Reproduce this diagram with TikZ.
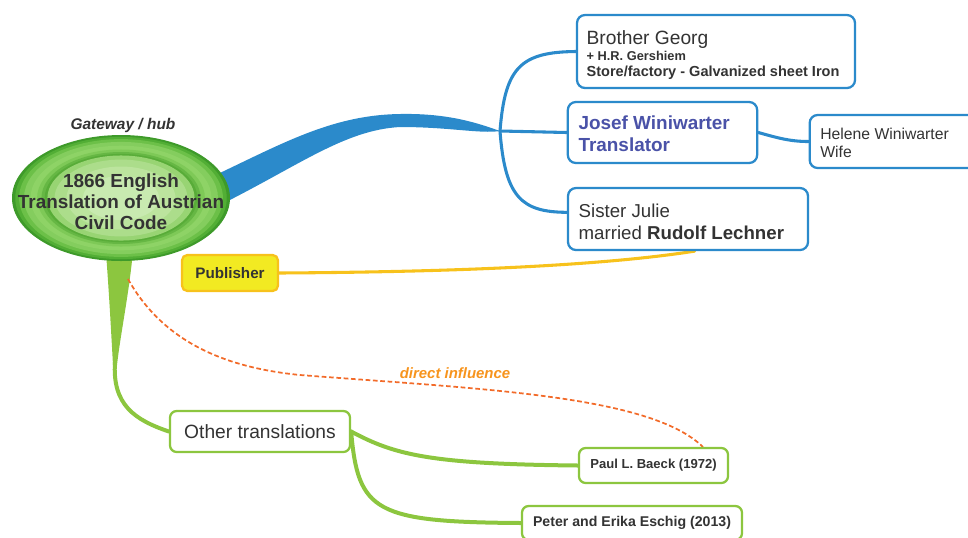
\documentclass[tikz,border=0pt]{standalone}
\usepackage{fontspec}
\setmainfont{Liberation Sans}
\usetikzlibrary{shapes.geometric,backgrounds}

\definecolor{ink}{HTML}{333333}
\definecolor{mapblue}{HTML}{2B8ACB}
\definecolor{namblue}{HTML}{4A52A8}
\definecolor{pubfill}{HTML}{F2EA22}
\definecolor{pubedge}{HTML}{F7C21C}
\definecolor{mapgreen}{HTML}{8CC63F}
\definecolor{infl}{HTML}{F26B2A}
\definecolor{infltext}{HTML}{F7941D}

% bands of the hub ellipse, outside in
\definecolor{hubA}{HTML}{3E9A2A}
\definecolor{hubB}{HTML}{52AE35}
\definecolor{hubC}{HTML}{6CC048}
\definecolor{hubD}{HTML}{84CD5E}
\definecolor{hubE}{HTML}{8ED366}
\definecolor{hubF}{HTML}{7EC957}
\definecolor{hubG}{HTML}{66B744}
\definecolor{hubH}{HTML}{58AC38}
\definecolor{hubI}{HTML}{98D473}
\definecolor{hubJ}{HTML}{ACDD8B}
\definecolor{hubK}{HTML}{BCE49E}
\definecolor{hubL}{HTML}{C8EAB0}

\tikzset{
  topic/.style={draw=mapblue, rounded corners=6pt, line width=1.7pt,
    fill=white, inner ysep=0pt, inner xsep=8pt, text=ink, align=flush left},
  leaf/.style={draw=mapgreen, rounded corners=5pt, line width=1.7pt,
    fill=white, inner sep=0pt, text=ink, align=center},
  hub/.style={ellipse, minimum width=163.5pt, minimum height=94.5pt, inner sep=0pt},
  hubtext/.style={text=ink, align=center, inner sep=0pt,
    font=\bfseries\fontsize{14.2}{15.75}\selectfont},
  blueline/.style={draw=mapblue, line width=2.3pt, line cap=round},
  greenline/.style={draw=mapgreen, line width=3pt, line cap=round},
  yellowline/.style={draw=pubedge, line width=2.3pt, line cap=round},
  inflline/.style={draw=infl, line width=1.3pt, dash pattern=on 3.5pt off 2pt},
}

\begin{document}
\begin{tikzpicture}[x=0.75pt,y=-0.75pt]
\useasboundingbox (0,0) rectangle (968,537);

% central topic: concentric bands give the bevelled green look
\node[hub] (hub) at (121,198) {};
\foreach \s/\c in {1.00/hubA,0.97/hubB,0.935/hubC,0.89/hubD,0.83/hubE,0.77/hubF,
                   0.73/hubG,0.70/hubH,0.675/hubI,0.61/hubJ,0.50/hubK,0.35/hubL}
  \fill[\c] (hub.center) ellipse [x radius=\s*81.75pt, y radius=\s*47.25pt];
\node[hubtext, yshift=-3pt] (hubtext) at (hub.center) {1866 English\\Translation of Austrian\\Civil Code};
\node[text=ink, font=\bfseries\itshape\fontsize{11.6}{13}\selectfont] (tag) at (123,125) {Gateway / hub};

% family branch
\node[topic, minimum width=208.5pt, minimum height=54.75pt, text width=194pt, inner xsep=7pt,
  font=\fontsize{10}{12}\selectfont] (georg) at (716,51.5)
  {\rule{0pt}{16pt}{\fontsize{14.4}{13}\selectfont Brother Georg}\\[-0.25pt]
   {\bfseries\fontsize{9.6}{12}\selectfont + H.R. Gershiem}\\[0.6pt]
   {\bfseries\fontsize{10.9}{12}\selectfont Store/factory - Galvanized sheet Iron}};
\node[topic, minimum width=141.75pt, minimum height=45.75pt, text width=126pt, inner xsep=8pt,
  text=namblue, font=\bfseries\fontsize{14.2}{16.5}\selectfont] (josef) at (662.5,132.5)
  {\rule{0pt}{11.5pt}Josef Winiwarter\\Translator};
\node[topic, minimum width=127.5pt, minimum height=39.75pt, text width=112pt,
  font=\fontsize{11.8}{14}\selectfont] (helene) at (895,141.5)
  {\rule{0pt}{10.5pt}Helene Winiwarter\\Wife};
\node[topic, minimum width=180pt, minimum height=46.5pt, text width=164pt,
  font=\fontsize{14}{17}\selectfont] (julie) at (688,219)
  {\rule{0pt}{14.6pt}Sister Julie\\married \textbf{Rudolf Lechner}};

% publisher
\node[draw=pubedge, fill=pubfill, rounded corners=4pt, line width=1.7pt,
  minimum width=72pt, minimum height=27pt, inner sep=0pt, text=ink,
  font=\bfseries\fontsize{11.4}{12}\selectfont] (pub) at (230,273) {Publisher};

% translations
\node[leaf, minimum width=135pt, minimum height=30.75pt,
  font=\fontsize{14.4}{16}\selectfont] (other) at (260,431.5) {Other translations};
\node[leaf, minimum width=111.75pt, minimum height=26.25pt,
  font=\bfseries\fontsize{9.8}{11}\selectfont] (paul) at (653.5,465.5) {Paul L. Baeck (1972)};
\node[leaf, minimum width=165pt, minimum height=25.5pt,
  font=\bfseries\fontsize{10.6}{11}\selectfont] (peter) at (632,523) {Peter and Erika Eschig (2013)};

\node[text=infltext, font=\bfseries\itshape\fontsize{11.2}{13}\selectfont] (infllabel) at (455,373) {direct influence};

\coordinate (fork) at (500,131);
\coordinate (inflstart) at (128,279);
\coordinate (inflend) at (703,447);
\coordinate (stem) at (115,362);

\begin{scope}[on background layer]
  % tapered trunk to the family branch
  \fill[mapblue] (205,180) .. controls (280,145) and (330,115) .. (400,114)
    .. controls (450,113) and (480,124) .. (fork)
    .. controls (480,134) and (450,127) .. (400,127)
    .. controls (345,130) and (300,165) .. (220,205) -- cycle;
  \draw[blueline] (fork) .. controls (505,68) and (520,52) .. (georg.west);
  \draw[blueline] (fork) -- (josef.west);
  \draw[blueline] (fork) .. controls (505,198) and (522,212) .. ([yshift=5pt]julie.west);
  \draw[blueline] (josef.east) .. controls (778,138) and (790,141.5) .. (helene.west);

  % publisher link
  \draw[yellowline] (pub.east) .. controls (450,272) and (600,266) .. ([xshift=5pt]julie.south);

  % tapered trunk to the translations
  \fill[mapgreen] (105,240) -- (134,240) .. controls (130,290) and (121,330) .. (117,365)
    -- (113,365) .. controls (111,330) and (109,290) .. (105,240) -- cycle;
  \draw[greenline] (stem) .. controls (112,405) and (135,420) .. (other.west);
  \draw[greenline] (other.east) .. controls (395,455) and (430,464) .. (paul.west);
  \draw[greenline] (other.east) .. controls (358,512) and (375,522) .. (peter.west);

  % influence
  \draw[inflline] (inflstart) .. controls (165,345) and (230,368) .. (300,375)
    .. controls (480,389) and (650,395) .. (inflend);
\end{scope}
\end{tikzpicture}
\end{document}
